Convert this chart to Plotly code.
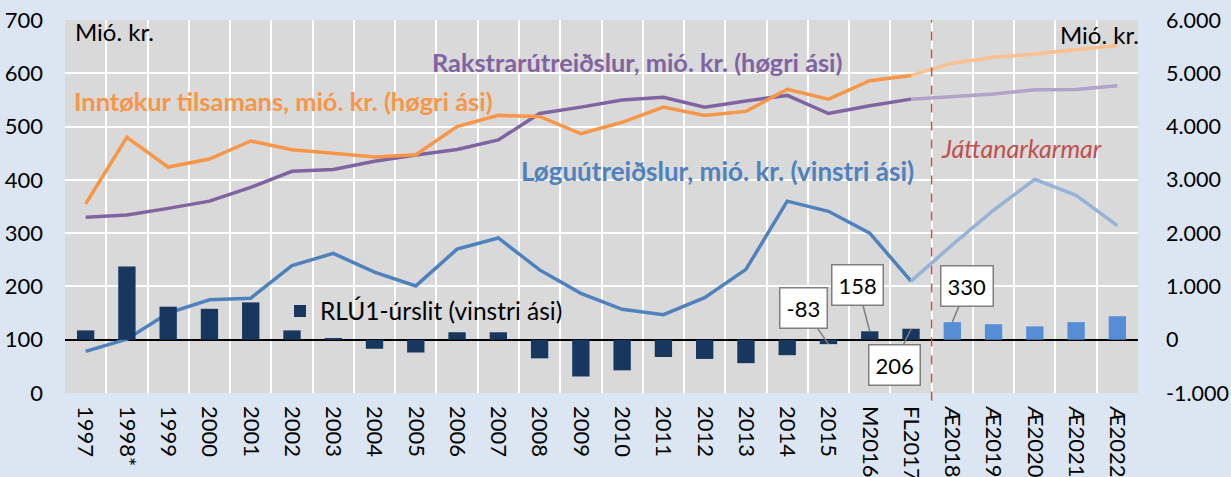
import plotly.graph_objects as go

categories = ["1997", "1998*", "1999", "2000", "2001", "2002", "2003", "2004", "2005",
              "2006", "2007", "2008", "2009", "2010", "2011", "2012", "2013", "2014",
              "2015", "M2016", "FL2017", "Æ2018", "Æ2019", "Æ2020", "Æ2021", "Æ2022"]

# RLÚ1-úrslit (bars, mió. kr.)
rlu1 = [175, 1375, 620, 580, 700, 175, 15, -170, -240, 140, 140, -350, -690, -575,
        -325, -360, -440, -290, -83, 158, 206, 330, 290, 250, 330, 440]
# Løguútreiðslur (left axis)
logu = [78, 101, 150, 175, 178, 239, 262, 227, 201, 270, 291, 231, 187, 157, 147,
        179, 232, 360, 341, 300, 210, 278, 343, 401, 371, 314]
# Inntøkur tilsamans (right axis)
inntokur = [2550, 3800, 3240, 3390, 3730, 3565, 3500, 3430, 3470, 4000, 4210, 4190,
            3865, 4080, 4365, 4210, 4285, 4700, 4515, 4860, 4960, 5190, 5300, 5360,
            5440, 5520]
# Rakstrarútreiðslur (right axis)
rakstur = [2300, 2340, 2465, 2600, 2860, 3160, 3195, 3350, 3465, 3570, 3750, 4245,
           4365, 4500, 4550, 4365, 4480, 4585, 4245, 4390, 4515, 4565, 4610, 4690,
           4695, 4765]

left_ticks = [0, 100, 200, 300, 400, 500, 600, 700]
right_ticks = [-1000, 0, 1000, 2000, 3000, 4000, 5000, 6000]
right_ticktext = ["-1.000", "0", "1.000", "2.000", "3.000", "4.000", "5.000", "6.000"]

n_actual = 21  # 1997 .. FL2017
callouts = {"2015": (-25, -36), "M2016": (-12, -46), "FL2017": (-17, 36), "Æ2018": (15, -36)}

FONT = "Lato, Carlito, 'Open Sans', sans-serif"
NAVY = "#17375e"
BAR_FC = "#558ed5"
BLUE = "#4f81bd"
BLUE_FC = "#95b3d7"
ORANGE = "#f79646"
ORANGE_FC = "#fac090"
PURPLE = "#8064a2"
PURPLE_FC = "#b3a2c7"
TICK = 22

fig = go.Figure()

bar_colors = [NAVY if i < n_actual else BAR_FC for i in range(len(categories))]
fig.add_trace(go.Bar(x=categories, y=rlu1, yaxis="y2", marker=dict(color=bar_colors, line_width=0),
                     width=0.42, name="RLÚ1-úrslit (vinstri ási)", showlegend=True))

lw = 3.5
fig.add_trace(go.Scatter(x=categories[:n_actual], y=rakstur[:n_actual], yaxis="y2", mode="lines",
                         line=dict(color=PURPLE, width=lw), showlegend=False))
fig.add_trace(go.Scatter(x=categories[n_actual - 1:], y=rakstur[n_actual - 1:], yaxis="y2", mode="lines",
                         line=dict(color=PURPLE_FC, width=lw), showlegend=False))
fig.add_trace(go.Scatter(x=categories[:n_actual], y=inntokur[:n_actual], yaxis="y2", mode="lines",
                         line=dict(color=ORANGE, width=lw), showlegend=False))
fig.add_trace(go.Scatter(x=categories[n_actual - 1:], y=inntokur[n_actual - 1:], yaxis="y2", mode="lines",
                         line=dict(color=ORANGE_FC, width=lw), showlegend=False))
fig.add_trace(go.Scatter(x=categories[:n_actual], y=logu[:n_actual], yaxis="y", mode="lines",
                         line=dict(color=BLUE, width=lw), showlegend=False))
fig.add_trace(go.Scatter(x=categories[n_actual - 1:], y=logu[n_actual - 1:], yaxis="y", mode="lines",
                         line=dict(color=BLUE_FC, width=lw), showlegend=False))

annotations = []
for cat, (ax, ay) in callouts.items():
    i = categories.index(cat)
    annotations.append(dict(x=i, y=rlu1[i], xref="x", yref="y2", text=str(rlu1[i]),
                            showarrow=True, arrowhead=0, arrowwidth=1.5, arrowcolor="#7f7f7f",
                            ax=ax, ay=ay, bgcolor="white", bordercolor="#7f7f7f", borderwidth=1.5,
                            borderpad=6, font=dict(size=TICK, color="black", family=FONT)))

def label(text, x, y, color, size=25, bold=True, italic=False, xanchor="left"):
    t = text
    if bold:
        t = "<b>" + t + "</b>"
    if italic:
        t = "<i>" + t + "</i>"
    annotations.append(dict(text=t, x=x, y=y, xref="paper", yref="paper", showarrow=False,
                            xanchor=xanchor, yanchor="middle",
                            font=dict(size=size, color=color, family=FONT)))

W, H = 1231, 477
L, R, T, B = 65, 93, 20, 84
pw, ph = W - L - R, H - T - B
def px(xp):
    return (xp - L) / pw
def py(yp):
    return (H - B - yp) / ph

label("Mió. kr.", px(73), py(31), "black", size=24, bold=False)
label("Mió. kr.", px(1141), py(34), "black", size=24, bold=False, xanchor="right")
label("Rakstrarútreiðslur, mió. kr. (høgri ási)", px(430), py(62), PURPLE, size=25.3)
label("Inntøkur tilsamans, mió. kr. (høgri ási)", px(72), py(101), ORANGE, size=25.4)
label("Løguútreiðslur, mió. kr. (vinstri ási)", px(519), py(171), BLUE, size=26)
label("Játtanarkarmar", px(939), py(148), "#c0504d", size=25, bold=False, italic=True)

fig.update_layout(
    width=W, height=H,
    margin=dict(l=L, r=R, t=T, b=B, autoexpand=False),
    paper_bgcolor="#dce6f2",
    plot_bgcolor="#d9d9d9",
    font=dict(family=FONT, size=TICK, color="black"),
    barmode="overlay",
    annotations=annotations,
    legend=dict(x=px(280), y=py(311), xanchor="left", yanchor="middle", bgcolor="rgba(0,0,0,0)",
                font=dict(size=24.5, color="black", family=FONT), itemsizing="constant",
                itemwidth=30),
    shapes=[dict(type="line", xref="x", yref="paper", x0=20.5, x1=20.5, y0=-0.02, y1=1,
                 line=dict(color="#c0504d", width=1.5, dash="dash"))],
    xaxis=dict(type="category", tickangle=90, tickson="boundaries", showgrid=True,
               gridcolor="white", gridwidth=2, ticks="", showline=False, automargin=False,
               tickfont=dict(size=TICK, color="black"), range=[-0.5, 25.5],
               ticklabelstandoff=12),
    yaxis=dict(range=[0, 700], tickvals=left_ticks, showgrid=True, gridcolor="white", gridwidth=2,
               zeroline=False, ticks="", tickfont=dict(size=TICK, color="black"),
               ticklabelstandoff=21, automargin=False),
    yaxis2=dict(range=[-1000, 6000], overlaying="y", side="right", tickvals=right_ticks,
                ticktext=right_ticktext, showgrid=False, zeroline=True, zerolinecolor="black",
                zerolinewidth=2, ticks="", tickfont=dict(size=21.5, color="black"),
                ticklabelstandoff=27, automargin=False),
)

fig.write_html("out.html", config={"displayModeBar": False},
               post_script="document.body.style.margin='0';document.body.style.overflow='hidden';")
